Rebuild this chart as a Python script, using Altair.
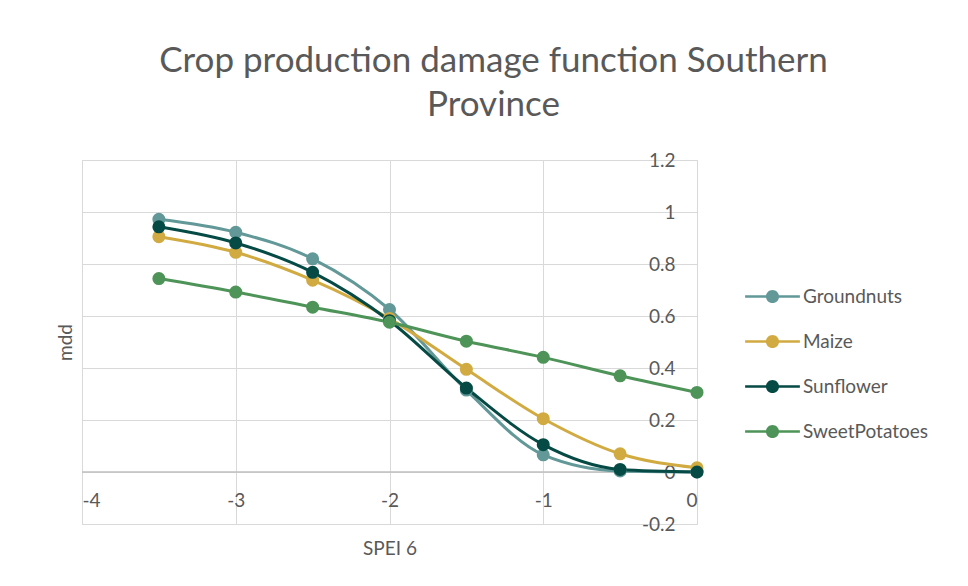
import altair as alt
import pandas as pd

spei = [-3.5, -3.0, -2.5, -2.0, -1.5, -1.0, -0.5, 0.0]
groundnuts = [0.972, 0.922, 0.820, 0.625, 0.315, 0.066, 0.004, 0.0]
maize = [0.905, 0.845, 0.738, 0.590, 0.395, 0.205, 0.070, 0.016]
sunflower = [0.943, 0.881, 0.768, 0.582, 0.323, 0.105, 0.010, 0.0]
sweet_potatoes = [0.744, 0.692, 0.634, 0.576, 0.503, 0.441, 0.370, 0.306]

series_names = ["Groundnuts", "Maize", "Sunflower", "SweetPotatoes"]
series_values = [groundnuts, maize, sunflower, sweet_potatoes]
series_colors = ["#629898", "#D1AB42", "#064A45", "#4E9458"]

x_ticks = [-4, -3, -2, -1, 0]
y_ticks = [-0.2, 0, 0.2, 0.4, 0.6, 0.8, 1.0, 1.2]

rows = []
for i, (name, vals) in enumerate(zip(series_names, series_values)):
    for x, y in zip(spei, vals):
        rows.append({"SPEI": x, "mdd": y, "crop": name, "order": i})
df = pd.DataFrame(rows)

FONT = "Lato"
GRAY = "#595959"

color_scale = alt.Scale(domain=series_names, range=series_colors)

legend_path = ("M-1,-0.05H1V0.05H-1Z "
               "M-0.24,0A0.24,0.24,0,1,1,0.24,0A0.24,0.24,0,1,1,-0.24,0Z")

legend = alt.Legend(title=None, orient="none", legendX=663, legendY=109,
                    symbolType=legend_path, symbolSize=3000,
                    symbolStrokeWidth=0, labelFont=FONT, labelFontSize=19,
                    labelColor=GRAY, labelOffset=3, rowPadding=7)

x_enc = alt.X("SPEI:Q", scale=alt.Scale(domain=[-4, 0], nice=False),
              axis=alt.Axis(values=x_ticks, title="SPEI 6", grid=True,
                            gridColor="#d9d9d9", domain=False, ticks=False,
                            format="~g",
                            labelPadding=-33, labelFontSize=19, labelColor=GRAY,
                            labelFont=FONT, titleFont=FONT, titleFontSize=19,
                            titleColor=GRAY, titleFontWeight="normal",
                            titleY=24, titleBaseline="middle",
                            labelExpr="replace(datum.label, '\u2212', '-')"))
y_enc = alt.Y("mdd:Q", scale=alt.Scale(domain=[-0.2, 1.2], nice=False),
              axis=alt.Axis(values=y_ticks, title="mdd", grid=True,
                            gridColor="#d9d9d9", domain=False, ticks=False,
                            format="~g",
                            labelPadding=-593, labelFontSize=19, labelColor=GRAY,
                            labelFont=FONT, labelBaseline="middle",
                            titleFont=FONT, titleFontSize=19, titleColor=GRAY,
                            titleFontWeight="normal", titleX=-17, titleY=182,
                            titleBaseline="middle",
                            labelExpr="replace(datum.label, '\u2212', '-')"))

base = alt.Chart(df)

zero_line = alt.Chart(pd.DataFrame({"v": [0]})).mark_rule(
    color="#bfbfbf", strokeWidth=1.5).encode(
        y=alt.Y("v:Q", scale=alt.Scale(domain=[-0.2, 1.2], nice=False)))

lines = base.mark_line(interpolate="monotone", strokeWidth=3).encode(
    x=x_enc, y=y_enc,
    color=alt.Color("crop:N", scale=color_scale, legend=legend),
    detail="crop:N",
    order=alt.Order("SPEI:Q"),
)

points = base.mark_point(filled=True, size=170, opacity=1).encode(
    x="SPEI:Q", y="mdd:Q",
    color=alt.Color("crop:N", scale=color_scale, legend=legend),
)

chart = alt.layer(zero_line, lines, points).properties(
    width=615, height=364,
    autosize=alt.AutoSizeParams(type="none"),
    padding={"left": 74, "top": 152, "right": 263, "bottom": 54},
    title=alt.TitleParams(
        text=["Crop production damage function Southern", "Province"],
        font=FONT, fontSize=35, fontWeight="normal", color=GRAY,
        anchor="middle", frame="group", dx=104, offset=28, lineHeight=44),
).configure_view(stroke=None).configure(background="white")

chart.save("out.html", embed_options={"renderer": "svg", "actions": False})
